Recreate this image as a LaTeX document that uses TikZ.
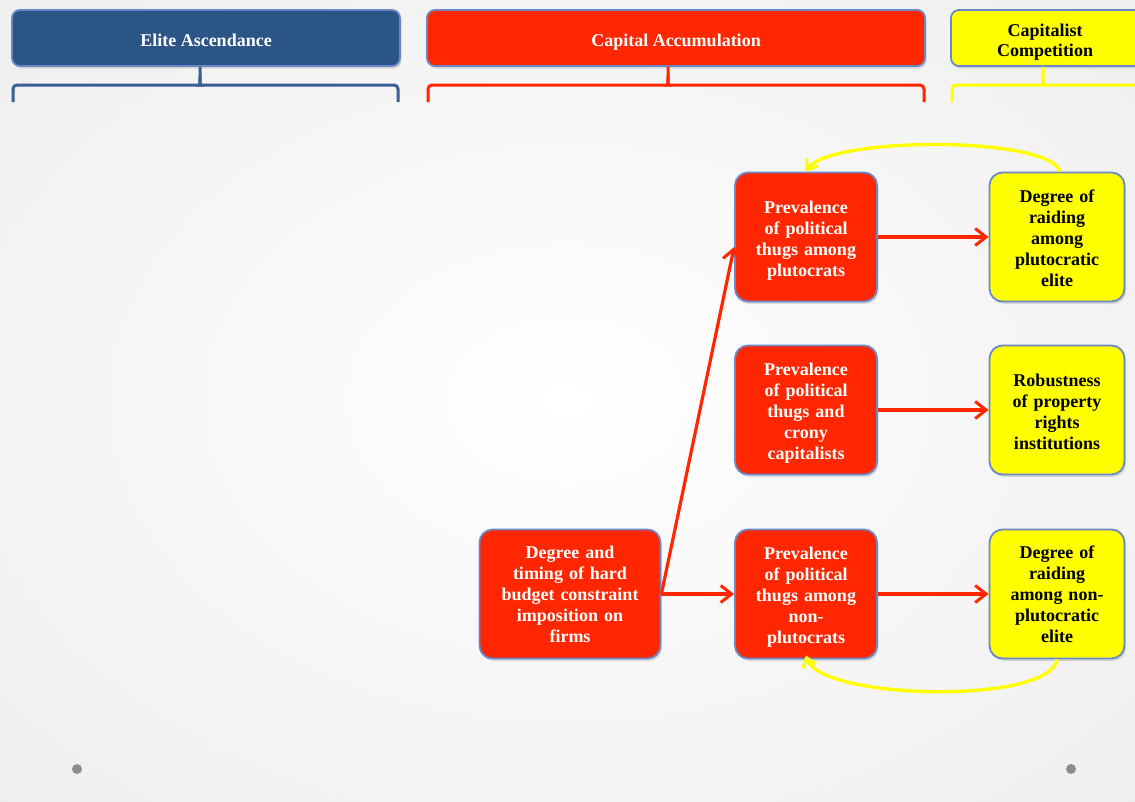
\documentclass[tikz,border=0pt]{standalone}
\usepackage{fontspec}
\setmainfont{Liberation Serif}
\usetikzlibrary{arrows.meta,shadows}
\definecolor{myred}{HTML}{FF2600}
\definecolor{myblue}{HTML}{2C5587}
\definecolor{myedge}{HTML}{6A88C8}
\definecolor{myyellow}{HTML}{FFFF00}
\definecolor{dotgray}{HTML}{8C8C8C}
\def\padh{0}
\tikzset{
  pad/.code={\def\padh{#1}},
  padded/.style={execute at begin node={\rule{0pt}{\padh pt}}},
  base/.style={rectangle, rounded corners=13, draw=myedge, line width=1.8, align=center,
    font=\fontsize{18}{21}\selectfont\bfseries, inner sep=1, padded,
    drop shadow={shadow xshift=1.5pt, shadow yshift=-2.5pt, opacity=0.25}},
  redbox/.style={base, fill=myred, text=white, minimum width=142, minimum height=129, text width=138, pad=19.5},
  yelbox/.style={base, fill=myyellow, text=black, minimum width=135, minimum height=129, text width=133, pad=15.5},
  head/.style={rectangle, rounded corners=8, draw=myedge, line width=1.8, align=center,
    font=\fontsize{18}{20}\selectfont\bfseries, minimum height=56, padded, pad=20.5,
    drop shadow={shadow xshift=1.5pt, shadow yshift=-2.5pt, opacity=0.25}},
  redarrow/.style={draw=myred, line width=3.2, -{Straight Barb[length=11pt,width=17pt,line width=3pt]}},
  yelarrow/.style={draw=myyellow, line width=3.4, -{Straight Barb[length=9pt,width=14pt,line width=3pt]}},
  brk/.style={line width=3, rounded corners=4},
}
\begin{document}
\begin{tikzpicture}[x=1pt,y=-1pt]
\useasboundingbox (0,0) rectangle (1135,801);
\clip (0,0) rectangle (1135,801);
\shade[inner color=white, outer color=black!13] (-1037,-732) rectangle (2171,1532);
% header boxes
\node[head, fill=myblue, text=white, minimum width=388, pad=16.5] (elite) at (206,38) {Elite Ascendance};
\node[head, fill=myred, text=white, minimum width=498] (capacc) at (676,38) {Capital Accumulation};
\node[head, fill=myyellow, text=black, minimum width=200, text width=180] (capcomp) at (1051,38) {\hspace*{-12pt}Capitalist\\\hspace*{-12pt}Competition};
% brackets
\draw[brk, draw=myblue!80!myedge] (13,102) -- (13,85) -- (197,85) to[out=0,in=90] (200,80) -- (elite.south -| 200,0);
\draw[brk, draw=myblue!80!myedge] (398,102) -- (398,85) -- (203,85) to[out=180,in=90] (200,80);
\draw[brk, draw=myred] (428,102) -- (428,85) -- (665,85) to[out=0,in=90] (668,80) -- (capacc.south -| 668,0);
\draw[brk, draw=myred] (924,102) -- (924,85) -- (671,85) to[out=180,in=90] (668,80);
\draw[brk, draw=myyellow] (952,102) -- (952,85) -- (1040,85) to[out=0,in=90] (1043,80) -- (capcomp.south -| 1043,0);
\draw[brk, draw=myyellow] (1150,85) -- (1046,85) to[out=180,in=90] (1043,80);
% nodes
\node[redbox] (p1) at (806,237) {Prevalence\\of political\\thugs among\\plutocrats};
\node[yelbox] (d1) at (1057,237) {Degree of\\raiding\\among\\plutocratic\\elite};
\node[redbox] (p2) at (806,410) {Prevalence\\of political\\thugs and\\crony\\capitalists};
\node[yelbox] (r) at (1057,410) {Robustness\\of property\\rights\\institutions};
\node[redbox, pad=18.5] (p3) at (806,594) {Prevalence\\of political\\thugs among\\non-\\plutocrats};
\node[yelbox, pad=12.5] (d3) at (1057,594) {Degree of\\raiding\\among non-\\plutocratic\\elite};
\node[redbox, minimum width=181, text width=178, pad=12.5] (h) at (570,594) {Degree and\\timing of hard\\budget constraint\\imposition on\\firms};
% arrows
\draw[redarrow] (h.east) -- (p3.west);
\draw[redarrow] (h.east) -- ([yshift=-10pt]p1.west);
\draw[redarrow] (p1.east) -- (d1.west);
\draw[redarrow] (p2.east) -- (r.west);
\draw[redarrow] (p3.east) -- (d3.west);
\draw[yelarrow] ([xshift=3pt]d1.north) .. controls (1050,136) and (830,136) .. (p1.north);
\draw[yelarrow] (d3.south) .. controls (1050,705) and (820,700) .. ([yshift=4pt]p3.south);
% dots
\fill[dotgray] (77,769) circle (5);
\fill[dotgray] (1071,769) circle (5);
\end{tikzpicture}
\end{document}
